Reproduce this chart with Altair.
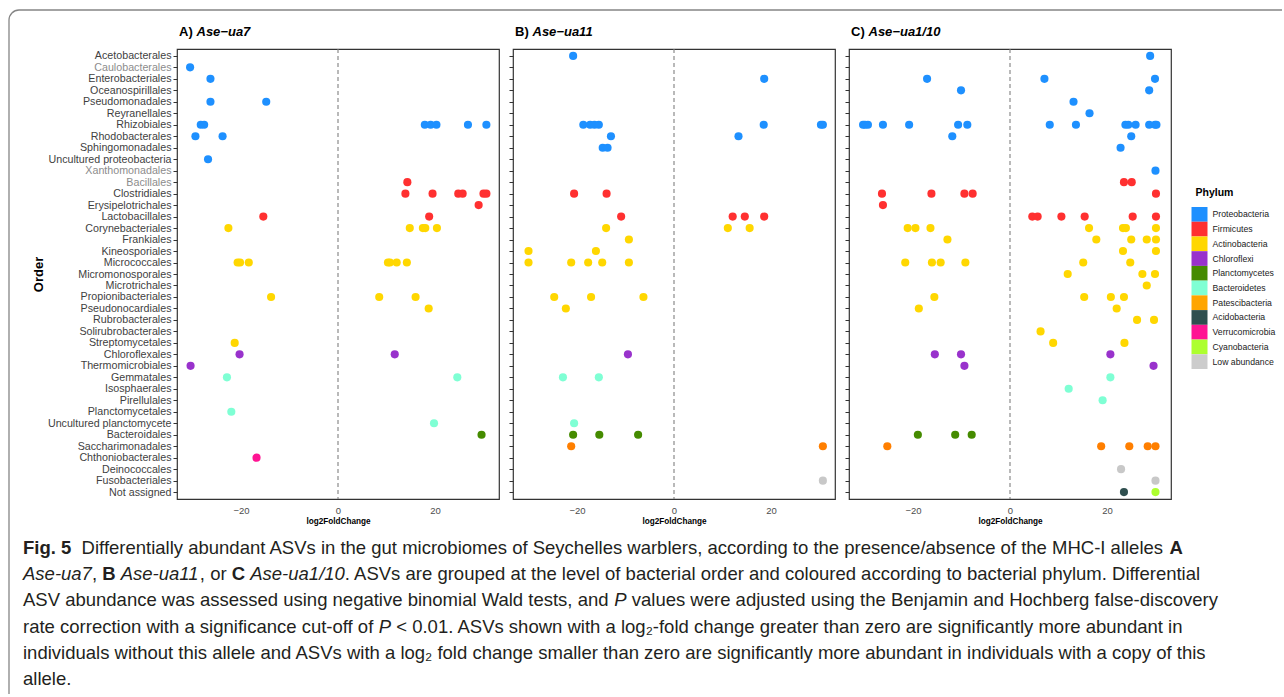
import altair as alt
import pandas as pd

# Bacterial orders, top to bottom on the y axis
ORDERS = [
    "Acetobacterales", "Caulobacterales", "Enterobacteriales", "Oceanospirillales",
    "Pseudomonadales", "Reyranellales", "Rhizobiales", "Rhodobacterales",
    "Sphingomonadales", "Uncultured proteobacteria", "Xanthomonadales", "Bacillales",
    "Clostridiales", "Erysipelotrichales", "Lactobacillales", "Corynebacteriales",
    "Frankiales", "Kineosporiales", "Micrococcales", "Micromonosporales",
    "Microtrichales", "Propionibacteriales", "Pseudonocardiales", "Rubrobacterales",
    "Solirubrobacterales", "Streptomycetales", "Chloroflexales", "Thermomicrobiales",
    "Gemmatales", "Isosphaerales", "Pirellulales", "Planctomycetales",
    "Uncultured planctomycete", "Bacteroidales", "Saccharimonadales",
    "Chthoniobacterales", "Deinococcales", "Fusobacteriales", "Not assigned",
]
GREY_LABELS = ["Caulobacterales", "Xanthomonadales", "Bacillales"]

PHYLA = [
    "Proteobacteria", "Firmicutes", "Actinobacteria", "Chloroflexi", "Planctomycetes",
    "Bacteroidetes", "Patescibacteria", "Acidobacteria", "Verrucomicrobia",
    "Cyanobacteria", "Low abundance",
]
KEY_COLORS = ["#1E90FF", "#FF3030", "#FFD700", "#9932CC", "#458B00", "#7FFFD4",
              "#FFA500", "#2F4F4F", "#FF1493", "#ADFF2F", "#CCCCCC"]
DOT_COLORS = ["#1E90FF", "#FF3030", "#FFD700", "#9932CC", "#458B00", "#7FFFD4",
              "#FF7F00", "#2F4F4F", "#FF1493", "#ADFF2F", "#C8C8C8"]

# (order, phylum key, log2 fold changes of the significant ASVs)
UA7 = [
    ("Caulobacterales", "Proteobacteria", [-30.5]),
    ("Enterobacteriales", "Proteobacteria", [-26.3]),
    ("Pseudomonadales", "Proteobacteria", [-26.3, -14.8]),
    ("Rhizobiales", "Proteobacteria", [-28.3, -27.6, 17.9, 19.1, 20.3, 26.8, 30.6]),
    ("Rhodobacterales", "Proteobacteria", [-29.4, -23.8]),
    ("Uncultured proteobacteria", "Proteobacteria", [-26.8]),
    ("Bacillales", "Firmicutes", [14.3]),
    ("Clostridiales", "Firmicutes", [13.9, 19.5, 24.8, 25.7, 30.0, 30.6]),
    ("Erysipelotrichales", "Firmicutes", [29.0]),
    ("Lactobacillales", "Firmicutes", [-15.4, 18.8]),
    ("Corynebacteriales", "Actinobacteria", [-22.6, 14.8, 17.5, 18.0, 20.4]),
    ("Micrococcales", "Actinobacteria", [-20.7, -20.2, -18.4, 10.3, 10.7, 12.1, 14.2]),
    ("Propionibacteriales", "Actinobacteria", [-13.8, 8.5, 16.0]),
    ("Pseudonocardiales", "Actinobacteria", [18.7]),
    ("Streptomycetales", "Actinobacteria", [-21.3]),
    ("Chloroflexales", "Chloroflexi", [-20.3, 11.7]),
    ("Thermomicrobiales", "Chloroflexi", [-30.4]),
    ("Gemmatales", "Bacteroidetes", [-22.9, 24.6]),
    ("Planctomycetales", "Bacteroidetes", [-22.0]),
    ("Uncultured planctomycete", "Bacteroidetes", [19.8]),
    ("Bacteroidales", "Planctomycetes", [29.6]),
    ("Chthoniobacterales", "Verrucomicrobia", [-16.8]),
]

UA11 = [
    ("Acetobacterales", "Proteobacteria", [-20.8]),
    ("Enterobacteriales", "Proteobacteria", [18.6]),
    ("Rhizobiales", "Proteobacteria", [-18.7, -17.3, -16.4, -15.5, 18.5, 30.3, 30.7]),
    ("Rhodobacterales", "Proteobacteria", [-13.0, 13.3]),
    ("Sphingomonadales", "Proteobacteria", [-14.7, -13.7]),
    ("Clostridiales", "Firmicutes", [-20.6, -13.9]),
    ("Lactobacillales", "Firmicutes", [-10.9, 12.1, 14.6, 18.6]),
    ("Corynebacteriales", "Actinobacteria", [-14.0, 11.1, 15.6]),
    ("Frankiales", "Actinobacteria", [-9.3]),
    ("Kineosporiales", "Actinobacteria", [-30.0, -16.1]),
    ("Micrococcales", "Actinobacteria", [-30.0, -21.2, -17.7, -14.8, -9.3]),
    ("Propionibacteriales", "Actinobacteria", [-24.7, -17.1, -6.3]),
    ("Pseudonocardiales", "Actinobacteria", [-22.3]),
    ("Chloroflexales", "Chloroflexi", [-9.5]),
    ("Gemmatales", "Bacteroidetes", [-22.9, -15.5]),
    ("Uncultured planctomycete", "Bacteroidetes", [-20.6]),
    ("Bacteroidales", "Planctomycetes", [-20.8, -15.4, -7.4]),
    ("Saccharimonadales", "Patescibacteria", [-21.2, 30.7]),
    ("Fusobacteriales", "Low abundance", [30.7]),
]

UA1_10 = [
    ("Acetobacterales", "Proteobacteria", [28.9]),
    ("Enterobacteriales", "Proteobacteria", [-17.1, 7.1, 29.9]),
    ("Oceanospirillales", "Proteobacteria", [-10.1, 28.7]),
    ("Pseudomonadales", "Proteobacteria", [13.1]),
    ("Reyranellales", "Proteobacteria", [16.4]),
    ("Rhizobiales", "Proteobacteria", [-30.3, -29.9, -29.3, -26.2, -20.8, -10.7, -8.8,
                                       8.2, 13.6, 23.8, 24.4, 25.9, 28.7, 29.9, 30.2]),
    ("Rhodobacterales", "Proteobacteria", [-11.9, 25.0]),
    ("Sphingomonadales", "Proteobacteria", [22.8]),
    ("Xanthomonadales", "Proteobacteria", [30.0]),
    ("Bacillales", "Firmicutes", [23.5, 25.1]),
    ("Clostridiales", "Firmicutes", [-26.4, -16.2, -9.4, -7.7, 30.1]),
    ("Erysipelotrichales", "Firmicutes", [-26.2]),
    ("Lactobacillales", "Firmicutes", [4.6, 5.7, 10.6, 15.4, 25.3, 30.1]),
    ("Corynebacteriales", "Actinobacteria", [-21.1, -19.5, -16.4, 16.3, 23.3, 23.9, 30.1]),
    ("Frankiales", "Actinobacteria", [-12.9, 17.8, 25.0, 28.2, 30.1]),
    ("Kineosporiales", "Actinobacteria", [23.3, 30.1]),
    ("Micrococcales", "Actinobacteria", [-21.6, -16.1, -14.3, -9.2, 15.1, 24.8]),
    ("Micromonosporales", "Actinobacteria", [11.9, 27.3, 29.9]),
    ("Microtrichales", "Actinobacteria", [28.2]),
    ("Propionibacteriales", "Actinobacteria", [-15.6, 15.3, 20.8, 23.5]),
    ("Pseudonocardiales", "Actinobacteria", [-18.8, 22.0]),
    ("Rubrobacterales", "Actinobacteria", [26.2, 29.7]),
    ("Solirubrobacterales", "Actinobacteria", [6.3]),
    ("Streptomycetales", "Actinobacteria", [8.9, 23.6]),
    ("Chloroflexales", "Chloroflexi", [-15.5, -10.1, 20.7]),
    ("Thermomicrobiales", "Chloroflexi", [-9.4, 29.6]),
    ("Gemmatales", "Bacteroidetes", [20.7]),
    ("Isosphaerales", "Bacteroidetes", [12.1]),
    ("Pirellulales", "Bacteroidetes", [19.1]),
    ("Bacteroidales", "Planctomycetes", [-19.0, -11.3, -7.9]),
    ("Saccharimonadales", "Patescibacteria", [-25.3, 18.8, 24.6, 28.4, 30.0]),
    ("Deinococcales", "Low abundance", [22.9]),
    ("Fusobacteriales", "Low abundance", [30.0]),
    ("Not assigned", "Acidobacteria", [23.5]),
    ("Not assigned", "Cyanobacteria", [30.0]),
]

# Figure caption: one list of (text, style) runs per line; b = bold, i = italic
CAPTION = [
    [("Fig. 5", "b"), ("  ", "n"),
     ("Differentially abundant ASVs in the gut microbiomes of Seychelles warblers, "
      "according to the presence/absence of the MHC-I alleles ", "n"),
     ("A", "b")],
    [("Ase-ua7", "i"), (", ", "n"), ("B", "b"), (" ", "n"), ("Ase-ua11", "i"),
     (", or ", "n"), ("C", "b"), (" ", "n"), ("Ase-ua1/10", "i"),
     (". ASVs are grouped at the level of bacterial order and coloured according "
      "to bacterial phylum. Differential", "n")],
    [("ASV abundance was assessed using negative binomial Wald tests, and ", "n"),
     ("P", "i"),
     (" values were adjusted using the Benjamin and Hochberg false-discovery", "n")],
    [("rate correction with a significance cut-off of ", "n"), ("P", "i"),
     (" < 0.01. ASVs shown with a log\u2082-fold change greater than zero are "
      "significantly more abundant in", "n")],
    [("individuals without this allele and ASVs with a log\u2082 fold change smaller "
      "than zero are significantly more abundant in individuals with a copy of this",
      "n")],
    [("allele.", "n")],
]

FONT = "Liberation Sans"
W, H = 322, 450
X_DOMAIN = [-33.2, 33.2]
ONE = alt.Data(values=[{"k": 0}])

# Advance widths (1/1000 em) of Liberation Sans, used to chain caption runs
_REG = dict(zip("abcdefghijklmnopqrstuvwxyz",
                [556, 556, 500, 556, 556, 278, 556, 556, 222, 222, 500, 222, 833,
                 556, 556, 556, 556, 333, 500, 278, 556, 500, 722, 500, 500, 500]))
_REG.update(zip("ABCDEFGHIJKLMNOPQRSTUVWXYZ",
                [667, 667, 722, 722, 667, 611, 778, 722, 278, 500, 667, 556, 833,
                 722, 778, 667, 778, 722, 667, 611, 722, 667, 944, 667, 667, 611]))
_REG.update({" ": 278, ",": 278, ".": 278, "-": 333, "/": 278, "<": 584,
             "\u2082": 370})
_BOLD = dict(_REG)
_BOLD.update({"A": 722, "B": 722, "C": 722, "F": 611, "i": 278, "g": 611})


def em_width(text, style):
    table = _BOLD if style == "b" else _REG
    return sum(table.get(c, 556) for c in text) / 1000.0


CAP_LEFT = -154          # first panel's coordinates
CAP_TOP = 499
CAP_STEP = 26.2
_max_em = max(sum(em_width(t, s) for t, s in line) for line in CAPTION)
CAP_SIZE = min(18.5, 1238.0 / _max_em)


def frame(rows):
    recs = []
    for order, phylum, vals in rows:
        for v in vals:
            recs.append({"order": order, "phylum": phylum, "lfc": v})
    return pd.DataFrame(recs)


def label_text(text, x, y, size, weight="normal", style="normal", color="#000000",
               font=FONT):
    return alt.Chart(ONE).mark_text(
        text=text, align="left", baseline="middle", font=font, fontSize=size,
        fontWeight=weight, fontStyle=style, color=color,
    ).encode(x=alt.value(x), y=alt.value(y))


def caption_layers():
    out = []
    for li, line in enumerate(CAPTION):
        y = CAP_TOP + li * CAP_STEP
        x = CAP_LEFT
        for text, style in line:
            body = text.strip()
            if body:
                lead = em_width(text[: len(text) - len(text.lstrip())], style)
                out.append(label_text(
                    body, x + lead * CAP_SIZE, y, CAP_SIZE,
                    weight="bold" if style == "b" else "normal",
                    style="italic" if style == "i" else "normal",
                    color="#231f20"))
            x += em_width(text, style) * CAP_SIZE
    return out


def border_layers():
    edge = "#858585"
    return [
        alt.Chart(ONE).mark_rule(color=edge, strokeWidth=1.3).encode(
            x=alt.value(-158), x2=alt.value(1105), y=alt.value(-39)),
        alt.Chart(ONE).mark_rule(color=edge, strokeWidth=1.3).encode(
            x=alt.value(-168), y=alt.value(-29), y2=alt.value(645)),
        alt.Chart(ONE).mark_arc(
            theta=4.7124, theta2=6.2832, radius=10.65, radius2=9.35, color=edge
        ).encode(x=alt.value(-158), y=alt.value(-29)),
    ]


def panel(rows, tag, allele, first=False):
    df = frame(rows)
    x_enc = alt.X(
        "lfc:Q",
        scale=alt.Scale(domain=X_DOMAIN, nice=False, zero=False),
        axis=alt.Axis(values=[-20, 0, 20], title="log2FoldChange", titleFontSize=8.2,
                      titleFontWeight="bold", titleColor="#000000", titlePadding=3,
                      labelFontSize=9.5, labelColor="#4d4d4d", labelPadding=6,
                      ticks=False, domain=False, grid=False),
    )
    if first:
        y_axis = alt.Axis(
            title="Order", titleFontSize=13, titleFontWeight="bold", titleColor="#000000",
            titlePadding=2, labelFontSize=10.7, labelPadding=2,
            labelColor={"expr": "indexof(" + str(GREY_LABELS) +
                        ", datum.value) >= 0 ? '#8c8c8c' : '#3f3f3f'"},
            tickSize=4, tickColor="#333333", domain=False, grid=False, labelLimit=300,
        )
    else:
        y_axis = alt.Axis(title=None, labels=False, tickSize=4, tickColor="#333333",
                          domain=False, grid=False)
    y_enc = alt.Y("order:N", sort=ORDERS,
                  scale=alt.Scale(type="point", domain=ORDERS, padding=0.6),
                  axis=y_axis)

    zero = alt.Chart(pd.DataFrame({"lfc": [0]})).mark_rule(
        color="#808080", strokeDash=[4, 3], strokeWidth=1.1
    ).encode(x="lfc:Q")
    dots = alt.Chart(df).mark_circle(size=66, opacity=1).encode(
        x=x_enc, y=y_enc,
        fill=alt.Fill("phylum:N", scale=alt.Scale(domain=PHYLA, range=DOT_COLORS),
                      legend=None),
    )
    layers = [zero, dots,
              label_text(tag, 2, -17, 13, weight="bold"),
              label_text(allele, 19.5, -17, 13, weight="bold", style="italic")]
    if first:
        layers += caption_layers() + border_layers()
    return alt.layer(*layers).properties(width=W, height=H)


# Phylum key, drawn as its own narrow view to the right of the panels
key_df = pd.DataFrame({"phylum": PHYLA})
key_y = alt.Y("phylum:N", sort=PHYLA, axis=None,
              scale=alt.Scale(type="band", domain=PHYLA, range=[158, 320],
                              paddingInner=0, paddingOuter=0))
key_boxes = alt.Chart(key_df).mark_rect().encode(
    y=key_y, x=alt.value(6.5), x2=alt.value(22.5),
    color=alt.Color("phylum:N", scale=alt.Scale(domain=PHYLA, range=KEY_COLORS),
                    legend=None),
)
key_labels = alt.Chart(key_df).mark_text(
    align="left", baseline="middle", font=FONT, fontSize=8.7, color="#1a1a1a"
).encode(y=key_y, x=alt.value(27.5), text="phylum:N")
key_title = label_text("Phylum", 10.5, 143.7, 10.5, weight="bold")
key = alt.layer(key_boxes, key_labels, key_title).properties(
    width=90, height=H, view=alt.ViewBackground(stroke="transparent"))

chart = alt.hconcat(
    panel(UA7, "A)", "Ase\u2212ua7", first=True),
    panel(UA11, "B)", "Ase\u2212ua11"),
    panel(UA1_10, "C)", "Ase\u2212ua1/10"),
    key,
    spacing=14, bounds="flush",
).properties(
    padding={"left": 7, "top": 8, "right": 0, "bottom": 0},
    background="white",
).configure_view(
    stroke="#333333", strokeWidth=1.2,
).configure_axis(
    labelFont=FONT, titleFont=FONT,
)

chart.save("out.html", embed_options={"renderer": "svg", "actions": False})
